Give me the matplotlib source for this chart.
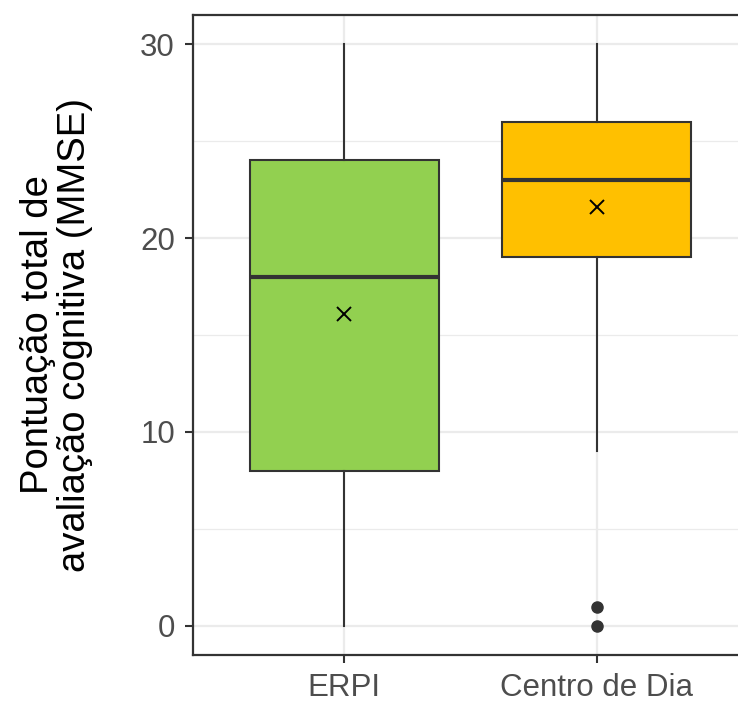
import numpy as np
import matplotlib.pyplot as plt

groups = ['ERPI', 'Centro de Dia']
whis_low = [0, 9]
q1 = [8, 19]
medians = [18, 23]
q3 = [24, 26]
whis_high = [30, 30]
means = [16.1, 21.6]
outliers = [[], [0, 1]]
colors = ['#92D050', '#FFC000']

plt.rcParams['font.family'] = ['Liberation Sans', 'DejaVu Sans']

fig = plt.figure(figsize=(7.38, 7.04), dpi=100)
ax = fig.add_axes([193 / 738, 1 - 655 / 704, 555 / 738, 640 / 704])

stats = []
for i, g in enumerate(groups):
    stats.append(dict(label=g, whislo=whis_low[i], q1=q1[i], med=medians[i],
                      q3=q3[i], whishi=whis_high[i], fliers=outliers[i]))

pos = np.arange(1, len(groups) + 1)
bp = ax.bxp(stats, positions=pos, widths=0.75, patch_artist=True, showcaps=False,
            boxprops=dict(edgecolor='#333333', linewidth=1.5),
            medianprops=dict(color='#333333', linewidth=3),
            whiskerprops=dict(color='#333333', linewidth=1.5),
            flierprops=dict(marker='o', markerfacecolor='#333333', markeredgecolor='#333333',
                            markersize=8), zorder=3)
for patch, c in zip(bp['boxes'], colors):
    patch.set_facecolor(c)

ax.plot(pos, means, linestyle='none', marker='x', color='black', markersize=10,
        markeredgewidth=1.4, zorder=4)

ax.set_xlim(0.4, 2.6)
ax.set_ylim(-1.5, 31.5)
ax.set_yticks([0, 10, 20, 30])
ax.set_yticks([5, 15, 25], minor=True)
ax.set_xticks(pos)
ax.set_xticklabels(groups)
ax.grid(True, which='major', color='#EBEBEB', linewidth=1.6, zorder=0)
ax.grid(True, which='minor', axis='y', color='#EBEBEB', linewidth=0.9, zorder=0)
ax.set_axisbelow(True)
ax.tick_params(which='major', length=6, width=1.5, color='#333333',
               labelsize=22.5, labelcolor='#4D4D4D', pad=7)
ax.tick_params(which='minor', length=0)
for s in ax.spines.values():
    s.set_color('#333333')
    s.set_linewidth(1.6)

ax.set_ylabel('Pontuação total de\navaliação cognitiva (MMSE)', fontsize=27.5,
              linespacing=1.05)
ax.yaxis.set_label_coords(-100 / 555, 0.5)

fig.savefig('out.png', dpi=100)
